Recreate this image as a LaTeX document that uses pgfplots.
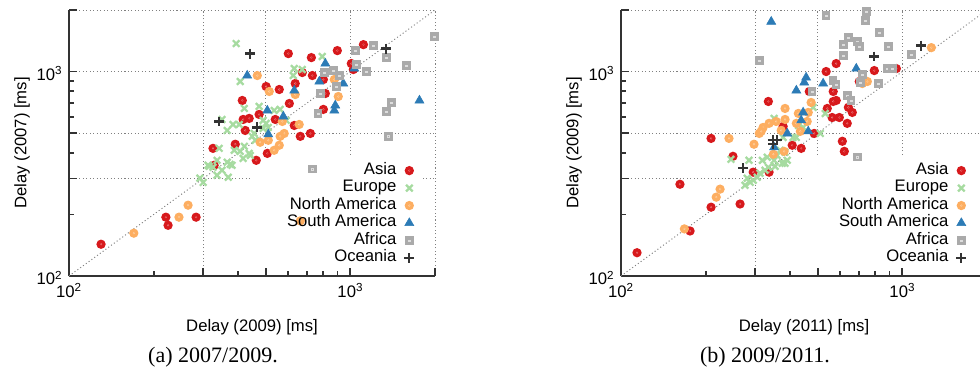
\documentclass[border=0pt]{standalone}
\usepackage{pgfplots}
\pgfplotsset{compat=1.18}
\usepackage{fontspec}
\setmainfont{Liberation Sans}
\newfontfamily\capfont{Liberation Serif}
\definecolor{cAsia}{HTML}{D7191C}
\definecolor{cEur}{HTML}{A6DBA0}
\definecolor{cNA}{HTML}{FDAE61}
\definecolor{cSA}{HTML}{2C7BB6}
\definecolor{cAf}{HTML}{AAAAAA}
\definecolor{cOc}{HTML}{333333}
\pgfdeclareplotmark{ringdot}{%
  \pgfpathcircle{\pgfpointorigin}{\pgfplotmarksize}\pgfusepathqfill
  \pgfsetstrokecolor{white!60!.}\pgfsetlinewidth{0.1pt}%
  \pgfpathcircle{\pgfpointorigin}{0.2\pgfplotmarksize}\pgfusepathqstroke}
\pgfdeclareplotmark{sqdot}{%
  \pgfpathrectangle{\pgfpoint{-\pgfplotmarksize}{-\pgfplotmarksize}}{\pgfpoint{2\pgfplotmarksize}{2\pgfplotmarksize}}\pgfusepathqfill
  \pgfsetstrokecolor{white!60!.}\pgfsetlinewidth{0.1pt}%
  \pgfpathrectangle{\pgfpoint{-0.2\pgfplotmarksize}{-0.2\pgfplotmarksize}}{\pgfpoint{0.4\pgfplotmarksize}{0.4\pgfplotmarksize}}\pgfusepathqstroke}
\pgfdeclarelayer{legend bg}
\pgfplotsset{
  layers/mylayers/.define layer set={axis background,axis grid,legend bg,axis ticks,axis lines,axis tick labels,pre main,main,axis descriptions,axis foreground}{/pgfplots/layers/standard},
}
\pgfplotsset{set layers=mylayers}
\pgfplotsset{
  asia/.style={only marks, mark=ringdot, color=cAsia, mark size=3.5pt},
  eur/.style={only marks, mark=x, color=cEur, mark size=3.5pt, line width=1.7pt},
  nam/.style={only marks, mark=ringdot, color=cNA, mark size=3.5pt},
  sam/.style={only marks, mark=triangle*, color=cSA, mark size=3.9pt},
  afr/.style={only marks, mark=sqdot, color=cAf, mark size=3.2pt},
  oce/.style={only marks, mark=+, color=cOc, mark size=3.7pt, line width=1.7pt},
  diag/.style={forget plot, gray, line width=0.7pt, dash pattern=on 0.8pt off 1.8pt},
  every axis/.append style={
    xmode=log, ymode=log, xmin=100, xmax=2000, ymin=100, ymax=2000,
    scale only axis, width=274.5pt, height=199.5pt, anchor=south west,
    axis x line=bottom, axis y line=left,
    axis line style={-, line width=1.8pt, draw=black!80},
    xtick={100,300,500,1000,2000}, ytick={100,300,500,1000,2000},
    xticklabels={10\textsuperscript{2},,,10\textsuperscript{3},},
    yticklabels={10\textsuperscript{2},,,10\textsuperscript{3},},
    minor xtick={200,400,600,700,800,900}, minor ytick={200,400,600,700,800,900},
    tick align=inside, major tick length=6pt, minor tick length=3.5pt,
    tick style={line width=1.4pt, draw=black!80},
    grid=major, major grid style={gray, line width=0.7pt, dash pattern=on 0.8pt off 1.8pt},
    tick label style={font=\fontsize{12.5}{15}\selectfont},
    xticklabel style={yshift=-2.25pt},
    yticklabel style={xshift=-1.5pt, yshift=-1.5pt},
    label style={font=\fontsize{12.5}{15}\selectfont},
    xlabel style={at={(axis description cs:0.5,-0.1917)}, anchor=center},
    ylabel style={at={(axis description cs:-0.1284,0.5)}, anchor=center},
    legend cell align=right, legend plot pos=right,
    legend style={at={(axis description cs:0.944,0.430)}, anchor=north east, draw=none, fill=none,
      font=\fontsize{12.5}{15}\selectfont, column sep=6pt, inner sep=0pt,
      nodes={inner sep=0pt, text height=9.3pt, text depth=3.8pt}},
  }
}
\begin{document}
\begin{tikzpicture}
\begin{axis}[at={(51.75pt,80.25pt)}, xlabel={Delay (2009) [ms]}, ylabel={Delay (2007) [ms]}]
\begin{pgfonlayer}{legend bg}\fill[white] (axis cs:444,100) rectangle (axis cs:1819,389);\end{pgfonlayer}
\addplot[diag] coordinates {(100,100)(2000,2000)};
\addplot[asia] coordinates {(602,1224)(727,1170)(899,1266)(1113,1354)(1008,1094)(1025,1023)(733,956)(675,989)(802,914)(637,874)(502,845)(559,817)(815,781)(413,722)(607,698)(802,653)(474,617)(437,590)(416,583)(541,583)(423,515)(632,545)(664,482)(721,498)(325,421)(390,441)(507,398)(463,368)(328,348)(130,143)(221,194)(225,177)(283,194)};
\addplot[eur] coordinates {(393,1370)(406,894)(795,1184)(632,1034)(675,1023)(627,956)(420,660)(474,675)(536,645)(563,653)(490,577)(502,558)(511,533)(490,527)(592,577)(350,583)(383,551)(403,551)(365,515)(448,482)(455,498)(459,461)(342,421)(420,431)(387,412)(406,407)(437,398)(441,389)(336,368)(365,360)(380,348)(312,348)(325,340)(350,329)(336,311)(368,304)(292,301)(300,287)(416,376)(315,344)(374,352)};
\addplot[nam] coordinates {(467,956)(877,914)(515,799)(637,772)(906,755)(658,551)(573,570)(582,498)(563,482)(511,461)(478,451)(559,436)(536,412)(170,162)(246,194)(265,222)(664,186)};
\addplot[sam] coordinates {(430,956)(815,1094)(1033,1034)(776,894)(944,874)(632,808)(1761,722)(884,683)(877,645)(507,645)(578,603)(511,493)};
\addplot[afr] coordinates {(1207,1339)(1042,1266)(1343,1170)(1990,1482)(1582,1070)(1050,1082)(1140,1000)(870,1011)(808,989)(914,956)(892,845)(782,781)(1399,706)(1343,638)(769,624)(1365,482)(733,333)};
\addplot[oce] coordinates {(441,1224)(1343,1295)(342,570)(467,533)};
\legend{Asia,Europe,North America,South America,Africa,Oceania}
\end{axis}
\begin{axis}[at={(465.75pt,80.25pt)}, xlabel={Delay (2011) [ms]}, ylabel={Delay (2009) [ms]}]
\begin{pgfonlayer}{legend bg}\fill[white] (axis cs:444,100) rectangle (axis cs:2000,389);\end{pgfonlayer}
\addplot[diag] coordinates {(100,100)(2000,2000)};
\addplot[asia] coordinates {(467,799)(334,714)(377,539)(209,471)(406,436)(437,421)(250,385)(582,1094)(536,1000)(703,894)(568,799)(582,722)(568,714)(541,660)(643,668)(664,631)(563,596)(597,596)(637,558)(486,498)(612,456)(622,407)(295,322)(336,322)(162,281)(209,217)(265,225)(176,166)(114,130)(795,1011)(952,1034)};
\addplot[eur] coordinates {(482,668)(532,624)(427,545)(444,533)(420,476)(511,498)(246,372)(285,368)(318,368)(331,381)(350,368)(359,389)(368,412)(383,403)(390,368)(374,356)(353,344)(334,340)(325,329)(312,318)(305,304)(295,294)(288,287)(281,301)(276,278)(383,356)(409,476)(350,590)(377,476)};
\addplot[nam] coordinates {(383,660)(383,583)(356,570)(336,558)(320,533)(310,498)(315,510)(242,471)(297,441)(348,394)(380,407)(474,706)(427,624)(463,631)(420,558)(459,570)(434,510)(371,515)(225,266)(218,243)(168,170)(1268,1309)(751,894)(721,874)};
\addplot[sam] coordinates {(342,1754)(455,935)(448,884)(420,808)(523,874)(686,1034)(444,631)(437,577)(390,498)(463,510)(350,426)};
\addplot[afr] coordinates {(310,1132)(536,1876)(745,1962)(739,1774)(828,1550)(643,1465)(617,1354)(692,1401)(703,1324)(892,1324)(617,1197)(1077,1210)(884,1034)(921,1034)(721,967)(709,884)(822,874)(568,904)(582,864)(478,799)(637,764)(658,722)(692,381)};
\addplot[oce] coordinates {(1168,1339)(795,1184)(348,461)(348,441)(359,461)(272,337)};
\legend{Asia,Europe,North America,South America,Africa,Oceania}
\end{axis}
\node[font=\capfont\fontsize{16.5}{18}\selectfont] at (159.75pt,19.5pt) {(a) 2007/2009.};
\node[font=\capfont\fontsize{16.5}{18}\selectfont] at (573.75pt,19.5pt) {(b) 2009/2011.};
\pgfresetboundingbox
\useasboundingbox (0,0) rectangle (735pt,287.25pt);
\end{tikzpicture}
\end{document}
